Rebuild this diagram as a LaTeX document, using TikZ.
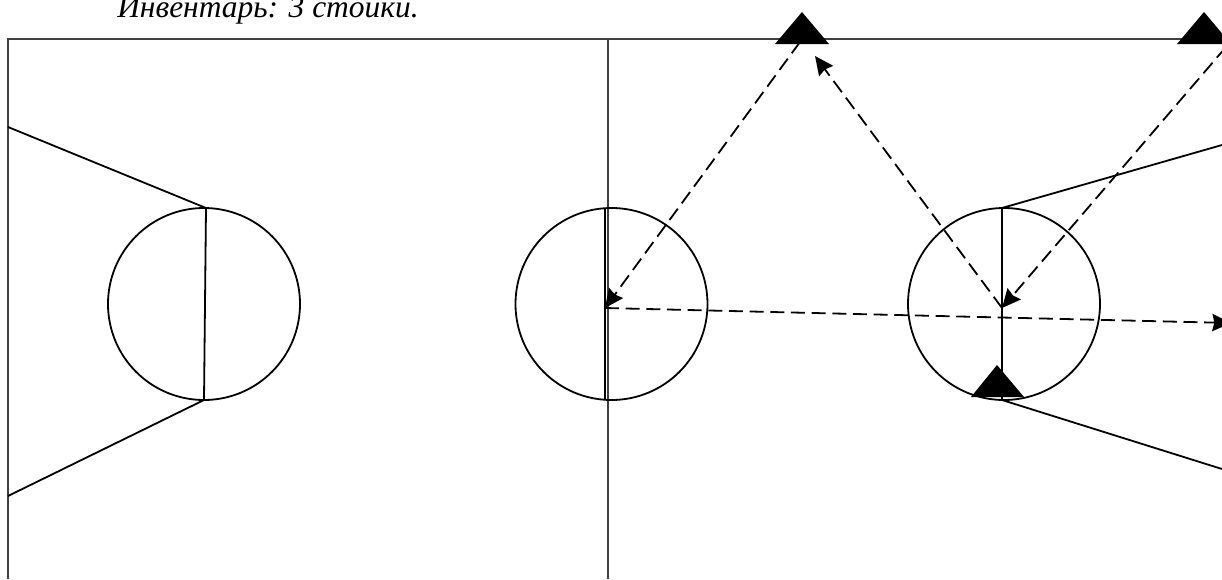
\documentclass[tikz,border=0pt]{standalone}
\usepackage{fontspec}
\setmainfont{Liberation Serif}
\usetikzlibrary{arrows.meta}
\tikzset{
	court/.style={black, line width=1.35pt},
	frameline/.style={black!75, line width=1.3pt},
	run/.style={black, line width=1.35pt, dash pattern=on 10.5pt off 5pt, -{Stealth[length=14pt, width=13pt, inset=1.5pt]}},
	stand/.style={fill=black}
}
\begin{document}
\begin{tikzpicture}[x=0.75pt, y=-0.75pt]
	\useasboundingbox (0,0) rectangle (1222,579);

	% Title
	\node[anchor=base west, inner sep=0pt, font=\itshape\fontsize{23.6pt}{28pt}\selectfont] (title) at (117,17.5) {Инвентарь: 3 стойки.};

	% Frame
	\draw[frameline] (8,579) -- (8,39) -- (1222,39);
	\draw[frameline] (608,39) -- (608,579);

	% Left zone
	\draw[court] (204,304) circle (96);
	\draw[court] (206,208) -- (204,400);
	\draw[court] (8,127) -- (206,208);
	\draw[court] (8,496) -- (204,400);

	% Centre circle
	\draw[court] (611.5,304) circle (96);
	\draw[court] (605,208) -- (605,400);

	% Right zone
	\draw[court] (1004,304) circle (96);
	\draw[court] (1002,208) -- (1002,400);
	\draw[court] (1002,208) -- (1222,145);
	\draw[court] (1002,400) -- (1222,469);

	% Points
	\coordinate (standA) at (800,42);
	\coordinate (standB) at (1226,47);
	\coordinate (centre) at (605,308);
	\coordinate (turn) at (1002,308);
	\coordinate (backA) at (815,56);
	\coordinate (endrun) at (1231,323);

	% Runs
	\draw[run] (standA) -- (centre);
	\draw[run] (turn) -- (backA);
	\draw[run] (standB) -- (turn);
	\draw[run] (centre) -- (endrun);

	% Stands
	\fill[stand] (802,12) -- (829,44) -- (775,44) -- cycle;
	\fill[stand] (1204,12) -- (1231,44) -- (1177,44) -- cycle;
	\fill[stand] (997,365) -- (1024,397) -- (971,397) -- cycle;
\end{tikzpicture}
\end{document}
